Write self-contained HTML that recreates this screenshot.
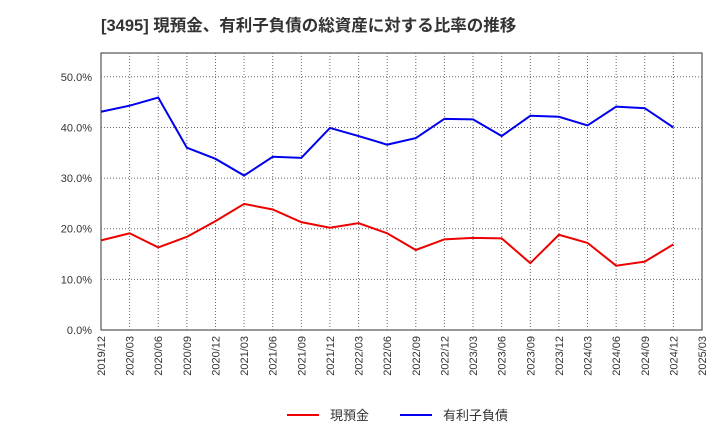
<!DOCTYPE html>
<html><head><meta charset="utf-8"><style>
body{margin:0;background:#fff;font-family:"Liberation Sans","Noto Sans CJK JP",sans-serif;}
</style></head><body>
<svg width="720" height="440" xmlns="http://www.w3.org/2000/svg" font-family="Liberation Sans, Noto Sans CJK JP, sans-serif">
<text x="101" y="31" font-size="16.5" font-weight="bold" fill="#333">[3495]  現預金、有利子負債の総資産に対する比率の推移</text>
<rect x="101" y="53" width="601" height="277" fill="#fff" stroke="#333" stroke-width="1"/>
<g id="grid"></g><g id="yaxis"></g><g id="xaxis"></g><g id="series"></g>
<g>
<line x1="287" y1="415" x2="319" y2="415" stroke="#e00" stroke-width="2"/>
<text x="330" y="420" font-size="13" fill="#333">現預金</text>
<line x1="400" y1="415" x2="432" y2="415" stroke="#00e" stroke-width="2"/>
<text x="443" y="420" font-size="13" fill="#333">有利子負債</text>
</g>
</svg>
<script>
const categories=["2019/12","2020/03","2020/06","2020/09","2020/12","2021/03","2021/06","2021/09","2021/12","2022/03","2022/06","2022/09","2022/12","2023/03","2023/06","2023/09","2023/12","2024/03","2024/06","2024/09","2024/12","2025/03"];
const cash=[17.7,19.1,16.3,18.4,21.5,24.9,23.8,21.3,20.2,21.1,19.1,15.8,17.9,18.2,18.1,13.2,18.8,17.2,12.7,13.5,16.9];
const debt=[43.1,44.3,45.9,36.0,33.8,30.5,34.2,34.0,39.9,38.3,36.6,37.9,41.7,41.6,38.3,42.3,42.1,40.4,44.1,43.8,40.0];
const yTicks=[0,10,20,30,40,50];
const NS="http://www.w3.org/2000/svg";
const X0=101,X1=702,Y0=330,YTOP=53,YMAX=54.7;
const xs=i=>X0+i*(X1-X0)/(categories.length-1);
const ys=v=>Y0-v*(Y0-YTOP)/YMAX;
function mk(tag,attrs,parent){const e=document.createElementNS(NS,tag);for(const k in attrs)e.setAttribute(k,attrs[k]);document.getElementById(parent).appendChild(e);return e;}
categories.forEach((c,i)=>{
  const x=xs(i);
  if(i>0&&i<categories.length-1){const g=mk('line',{x1:x,x2:x,y1:YTOP,y2:Y0,stroke:'#666','stroke-dasharray':'1,2','stroke-width':1},'grid');
  
  }
  const t=mk('text',{x:x+4,y:336,'font-size':11,fill:'#333','text-anchor':'end',transform:`rotate(-90 ${x+4} 336)`},'xaxis');
  t.textContent=c;
  
  
});
yTicks.forEach(v=>{
  const y=ys(v);
  if(v>0){const g=mk('line',{x1:X0,x2:X1,y1:y,y2:y,stroke:'#666','stroke-dasharray':'1,2','stroke-width':1},'grid');
  
  }
  const t=mk('text',{x:92,y:y+4,'font-size':11,fill:'#333','text-anchor':'end'},'yaxis');
  t.textContent=v.toFixed(1)+'%';
  
  
});
function line(arr,color,name){
  const p=mk('polyline',{points:arr.map((v,i)=>xs(i)+','+ys(v)).join(' '),fill:'none',stroke:color,'stroke-width':2},'series');
  
  
}
line(cash,'#e00','cash-line');
line(debt,'#00e','debt-line');
</script>
</body></html>
